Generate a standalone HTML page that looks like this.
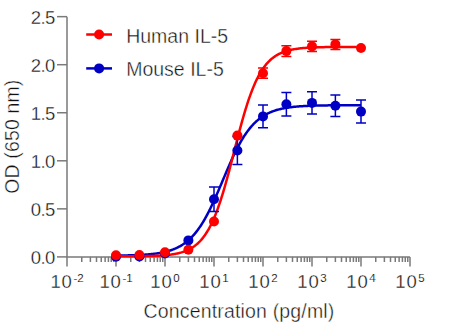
<!DOCTYPE html><html><head><meta charset="utf-8"><style>html,body{margin:0;padding:0;background:#fff;}svg{display:block;}text{font-family:"Liberation Sans",sans-serif;stroke:#fff;}</style></head><body>
<svg width="450" height="325" viewBox="0 0 450 325">
<rect width="450" height="325" fill="#fff"/>
<g stroke="#7a7a7a" stroke-width="1.5" fill="none">
<path d="M67.0,16.649999999999977 V256.9 H410"/>
<path d="M57,256.90 H67.0"/>
<path d="M57,208.85 H67.0"/>
<path d="M57,160.80 H67.0"/>
<path d="M57,112.75 H67.0"/>
<path d="M57,64.70 H67.0"/>
<path d="M57,16.65 H67.0"/>
<path d="M67.00,256.9 V266.5"/>
<path d="M81.75,256.9 V262"/>
<path d="M90.38,256.9 V262"/>
<path d="M96.50,256.9 V262"/>
<path d="M101.25,256.9 V262"/>
<path d="M105.13,256.9 V262"/>
<path d="M108.41,256.9 V262"/>
<path d="M111.25,256.9 V262"/>
<path d="M113.76,256.9 V262"/>
<path d="M116.00,256.9 V266.5"/>
<path d="M130.75,256.9 V262"/>
<path d="M139.38,256.9 V262"/>
<path d="M145.50,256.9 V262"/>
<path d="M150.25,256.9 V262"/>
<path d="M154.13,256.9 V262"/>
<path d="M157.41,256.9 V262"/>
<path d="M160.25,256.9 V262"/>
<path d="M162.76,256.9 V262"/>
<path d="M165.00,256.9 V266.5"/>
<path d="M179.75,256.9 V262"/>
<path d="M188.38,256.9 V262"/>
<path d="M194.50,256.9 V262"/>
<path d="M199.25,256.9 V262"/>
<path d="M203.13,256.9 V262"/>
<path d="M206.41,256.9 V262"/>
<path d="M209.25,256.9 V262"/>
<path d="M211.76,256.9 V262"/>
<path d="M214.00,256.9 V266.5"/>
<path d="M228.75,256.9 V262"/>
<path d="M237.38,256.9 V262"/>
<path d="M243.50,256.9 V262"/>
<path d="M248.25,256.9 V262"/>
<path d="M252.13,256.9 V262"/>
<path d="M255.41,256.9 V262"/>
<path d="M258.25,256.9 V262"/>
<path d="M260.76,256.9 V262"/>
<path d="M263.00,256.9 V266.5"/>
<path d="M277.75,256.9 V262"/>
<path d="M286.38,256.9 V262"/>
<path d="M292.50,256.9 V262"/>
<path d="M297.25,256.9 V262"/>
<path d="M301.13,256.9 V262"/>
<path d="M304.41,256.9 V262"/>
<path d="M307.25,256.9 V262"/>
<path d="M309.76,256.9 V262"/>
<path d="M312.00,256.9 V266.5"/>
<path d="M326.75,256.9 V262"/>
<path d="M335.38,256.9 V262"/>
<path d="M341.50,256.9 V262"/>
<path d="M346.25,256.9 V262"/>
<path d="M350.13,256.9 V262"/>
<path d="M353.41,256.9 V262"/>
<path d="M356.25,256.9 V262"/>
<path d="M358.76,256.9 V262"/>
<path d="M361.00,256.9 V266.5"/>
<path d="M375.75,256.9 V262"/>
<path d="M384.38,256.9 V262"/>
<path d="M390.50,256.9 V262"/>
<path d="M395.25,256.9 V262"/>
<path d="M399.13,256.9 V262"/>
<path d="M402.41,256.9 V262"/>
<path d="M405.25,256.9 V262"/>
<path d="M407.76,256.9 V262"/>
<path d="M410.00,256.9 V266.5"/>
</g>
<g fill="#111111" font-size="18.5" text-anchor="end" stroke-width="0.3">
<text x="54.9" y="264.00" letter-spacing="-0.5">0.0</text>
<text x="54.9" y="215.95" letter-spacing="-0.5">0.5</text>
<text x="54.9" y="167.90" letter-spacing="-0.5">1.0</text>
<text x="54.9" y="119.85" letter-spacing="-0.5">1.5</text>
<text x="54.9" y="71.80" letter-spacing="-0.5">2.0</text>
<text x="54.9" y="23.75" letter-spacing="-0.5">2.5</text>
</g>
<g fill="#111111" font-size="18.5" stroke-width="0.3">
<text x="67.00" y="288" text-anchor="middle"><tspan letter-spacing="0.8">10</tspan><tspan font-size="11.5" dy="-6.3" dx="0.8" stroke-width="0.1">-2</tspan></text>
<text x="116.00" y="288" text-anchor="middle"><tspan letter-spacing="0.8">10</tspan><tspan font-size="11.5" dy="-6.3" dx="0.8" stroke-width="0.1">-1</tspan></text>
<text x="165.00" y="288" text-anchor="middle"><tspan letter-spacing="0.8">10</tspan><tspan font-size="11.5" dy="-6.3" dx="0.8" stroke-width="0.1">0</tspan></text>
<text x="214.00" y="288" text-anchor="middle"><tspan letter-spacing="0.8">10</tspan><tspan font-size="11.5" dy="-6.3" dx="0.8" stroke-width="0.1">1</tspan></text>
<text x="263.00" y="288" text-anchor="middle"><tspan letter-spacing="0.8">10</tspan><tspan font-size="11.5" dy="-6.3" dx="0.8" stroke-width="0.1">2</tspan></text>
<text x="312.00" y="288" text-anchor="middle"><tspan letter-spacing="0.8">10</tspan><tspan font-size="11.5" dy="-6.3" dx="0.8" stroke-width="0.1">3</tspan></text>
<text x="361.00" y="288" text-anchor="middle"><tspan letter-spacing="0.8">10</tspan><tspan font-size="11.5" dy="-6.3" dx="0.8" stroke-width="0.1">4</tspan></text>
<text x="410.00" y="288" text-anchor="middle"><tspan letter-spacing="0.8">10</tspan><tspan font-size="11.5" dy="-6.3" dx="0.8" stroke-width="0.1">5</tspan></text>
</g>
<text x="239" y="318.3" fill="#111111" font-size="19.5" stroke-width="0.4" letter-spacing="0.17" text-anchor="middle">Concentration (pg/ml)</text>
<text transform="translate(19.0,136.7) rotate(-90)" fill="#111111" font-size="19.5" stroke-width="0.4" letter-spacing="0.15" text-anchor="middle">OD (650 nm)</text>
<path d="M116.00,255.57 L116.82,255.56 L117.64,255.55 L118.46,255.54 L119.28,255.53 L120.10,255.51 L120.92,255.50 L121.74,255.49 L122.56,255.48 L123.37,255.46 L124.19,255.45 L125.01,255.43 L125.83,255.41 L126.65,255.40 L127.47,255.38 L128.29,255.36 L129.11,255.34 L129.93,255.32 L130.75,255.29 L131.57,255.27 L132.39,255.24 L133.21,255.22 L134.03,255.19 L134.85,255.16 L135.67,255.13 L136.48,255.10 L137.30,255.06 L138.12,255.03 L138.94,254.99 L139.76,254.95 L140.58,254.91 L141.40,254.86 L142.22,254.81 L143.04,254.77 L143.86,254.71 L144.68,254.66 L145.50,254.60 L146.32,254.54 L147.14,254.48 L147.96,254.41 L148.78,254.34 L149.60,254.27 L150.41,254.19 L151.23,254.11 L152.05,254.02 L152.87,253.93 L153.69,253.84 L154.51,253.74 L155.33,253.63 L156.15,253.52 L156.97,253.41 L157.79,253.28 L158.61,253.16 L159.43,253.02 L160.25,252.88 L161.07,252.73 L161.89,252.57 L162.71,252.41 L163.53,252.24 L164.34,252.05 L165.16,251.86 L165.98,251.66 L166.80,251.45 L167.62,251.23 L168.44,251.00 L169.26,250.76 L170.08,250.50 L170.90,250.23 L171.72,249.95 L172.54,249.66 L173.36,249.35 L174.18,249.02 L175.00,248.69 L175.82,248.33 L176.64,247.96 L177.45,247.57 L178.27,247.16 L179.09,246.73 L179.91,246.28 L180.73,245.81 L181.55,245.32 L182.37,244.81 L183.19,244.27 L184.01,243.71 L184.83,243.13 L185.65,242.52 L186.47,241.88 L187.29,241.21 L188.11,240.52 L188.93,239.80 L189.75,239.05 L190.57,238.27 L191.38,237.45 L192.20,236.60 L193.02,235.72 L193.84,234.81 L194.66,233.86 L195.48,232.88 L196.30,231.86 L197.12,230.80 L197.94,229.70 L198.76,228.57 L199.58,227.40 L200.40,226.19 L201.22,224.95 L202.04,223.66 L202.86,222.34 L203.68,220.98 L204.49,219.57 L205.31,218.14 L206.13,216.66 L206.95,215.14 L207.77,213.59 L208.59,212.01 L209.41,210.39 L210.23,208.73 L211.05,207.05 L211.87,205.33 L212.69,203.58 L213.51,201.80 L214.33,200.00 L215.15,198.18 L215.97,196.33 L216.79,194.46 L217.61,192.57 L218.42,190.67 L219.24,188.76 L220.06,186.83 L220.88,184.89 L221.70,182.95 L222.52,181.01 L223.34,179.06 L224.16,177.12 L224.98,175.18 L225.80,173.25 L226.62,171.33 L227.44,169.42 L228.26,167.52 L229.08,165.64 L229.90,163.78 L230.72,161.94 L231.54,160.13 L232.35,158.34 L233.17,156.58 L233.99,154.84 L234.81,153.14 L235.63,151.46 L236.45,149.82 L237.27,148.22 L238.09,146.65 L238.91,145.11 L239.73,143.61 L240.55,142.15 L241.37,140.73 L242.19,139.35 L243.01,138.00 L243.83,136.69 L244.65,135.43 L245.46,134.20 L246.28,133.01 L247.10,131.85 L247.92,130.74 L248.74,129.66 L249.56,128.62 L250.38,127.61 L251.20,126.64 L252.02,125.71 L252.84,124.81 L253.66,123.95 L254.48,123.11 L255.30,122.31 L256.12,121.54 L256.94,120.81 L257.76,120.10 L258.58,119.42 L259.39,118.76 L260.21,118.14 L261.03,117.54 L261.85,116.97 L262.67,116.42 L263.49,115.89 L264.31,115.39 L265.13,114.91 L265.95,114.45 L266.77,114.01 L267.59,113.59 L268.41,113.19 L269.23,112.80 L270.05,112.44 L270.87,112.09 L271.69,111.76 L272.51,111.44 L273.32,111.14 L274.14,110.85 L274.96,110.57 L275.78,110.31 L276.60,110.06 L277.42,109.82 L278.24,109.59 L279.06,109.38 L279.88,109.17 L280.70,108.98 L281.52,108.79 L282.34,108.61 L283.16,108.44 L283.98,108.28 L284.80,108.13 L285.62,107.98 L286.43,107.84 L287.25,107.71 L288.07,107.59 L288.89,107.47 L289.71,107.35 L290.53,107.25 L291.35,107.14 L292.17,107.04 L292.99,106.95 L293.81,106.86 L294.63,106.78 L295.45,106.70 L296.27,106.62 L297.09,106.55 L297.91,106.48 L298.73,106.42 L299.55,106.36 L300.36,106.30 L301.18,106.24 L302.00,106.19 L302.82,106.14 L303.64,106.09 L304.46,106.04 L305.28,106.00 L306.10,105.96 L306.92,105.92 L307.74,105.88 L308.56,105.85 L309.38,105.81 L310.20,105.78 L311.02,105.75 L311.84,105.72 L312.66,105.70 L313.47,105.67 L314.29,105.65 L315.11,105.62 L315.93,105.60 L316.75,105.58 L317.57,105.56 L318.39,105.54 L319.21,105.52 L320.03,105.50 L320.85,105.49 L321.67,105.47 L322.49,105.46 L323.31,105.44 L324.13,105.43 L324.95,105.42 L325.77,105.41 L326.59,105.39 L327.40,105.38 L328.22,105.37 L329.04,105.36 L329.86,105.35 L330.68,105.34 L331.50,105.34 L332.32,105.33 L333.14,105.32 L333.96,105.31 L334.78,105.31 L335.60,105.30 L336.42,105.29 L337.24,105.29 L338.06,105.28 L338.88,105.28 L339.70,105.27 L340.52,105.27 L341.33,105.26 L342.15,105.26 L342.97,105.25 L343.79,105.25 L344.61,105.25 L345.43,105.24 L346.25,105.24 L347.07,105.24 L347.89,105.23 L348.71,105.23 L349.53,105.23 L350.35,105.23 L351.17,105.22 L351.99,105.22 L352.81,105.22 L353.63,105.22 L354.44,105.22 L355.26,105.21 L356.08,105.21 L356.90,105.21 L357.72,105.21 L358.54,105.21 L359.36,105.21 L360.18,105.20 L361.00,105.20" stroke="#0000c4" stroke-width="2.5" fill="none"/>
<path d="M116.00,256.39 L116.82,256.39 L117.64,256.38 L118.46,256.38 L119.28,256.38 L120.10,256.38 L120.92,256.37 L121.74,256.37 L122.56,256.37 L123.37,256.37 L124.19,256.36 L125.01,256.36 L125.83,256.35 L126.65,256.35 L127.47,256.35 L128.29,256.34 L129.11,256.34 L129.93,256.33 L130.75,256.33 L131.57,256.32 L132.39,256.31 L133.21,256.31 L134.03,256.30 L134.85,256.29 L135.67,256.28 L136.48,256.28 L137.30,256.27 L138.12,256.26 L138.94,256.25 L139.76,256.24 L140.58,256.23 L141.40,256.21 L142.22,256.20 L143.04,256.19 L143.86,256.17 L144.68,256.16 L145.50,256.14 L146.32,256.12 L147.14,256.10 L147.96,256.08 L148.78,256.06 L149.60,256.04 L150.41,256.01 L151.23,255.99 L152.05,255.96 L152.87,255.93 L153.69,255.90 L154.51,255.87 L155.33,255.84 L156.15,255.80 L156.97,255.76 L157.79,255.72 L158.61,255.67 L159.43,255.63 L160.25,255.58 L161.07,255.53 L161.89,255.47 L162.71,255.41 L163.53,255.35 L164.34,255.28 L165.16,255.21 L165.98,255.13 L166.80,255.05 L167.62,254.97 L168.44,254.87 L169.26,254.78 L170.08,254.67 L170.90,254.57 L171.72,254.45 L172.54,254.33 L173.36,254.20 L174.18,254.06 L175.00,253.91 L175.82,253.75 L176.64,253.59 L177.45,253.41 L178.27,253.22 L179.09,253.03 L179.91,252.82 L180.73,252.59 L181.55,252.36 L182.37,252.10 L183.19,251.84 L184.01,251.56 L184.83,251.26 L185.65,250.94 L186.47,250.60 L187.29,250.25 L188.11,249.87 L188.93,249.47 L189.75,249.05 L190.57,248.60 L191.38,248.13 L192.20,247.62 L193.02,247.09 L193.84,246.53 L194.66,245.94 L195.48,245.32 L196.30,244.65 L197.12,243.96 L197.94,243.22 L198.76,242.44 L199.58,241.62 L200.40,240.76 L201.22,239.85 L202.04,238.89 L202.86,237.88 L203.68,236.82 L204.49,235.71 L205.31,234.54 L206.13,233.31 L206.95,232.02 L207.77,230.67 L208.59,229.26 L209.41,227.78 L210.23,226.23 L211.05,224.62 L211.87,222.93 L212.69,221.17 L213.51,219.34 L214.33,217.44 L215.15,215.46 L215.97,213.41 L216.79,211.28 L217.61,209.07 L218.42,206.79 L219.24,204.44 L220.06,202.01 L220.88,199.51 L221.70,196.94 L222.52,194.30 L223.34,191.59 L224.16,188.82 L224.98,185.99 L225.80,183.10 L226.62,180.16 L227.44,177.17 L228.26,174.13 L229.08,171.06 L229.90,167.95 L230.72,164.80 L231.54,161.64 L232.35,158.45 L233.17,155.26 L233.99,152.05 L234.81,148.85 L235.63,145.65 L236.45,142.46 L237.27,139.29 L238.09,136.15 L238.91,133.03 L239.73,129.94 L240.55,126.89 L241.37,123.89 L242.19,120.93 L243.01,118.03 L243.83,115.19 L244.65,112.40 L245.46,109.68 L246.28,107.02 L247.10,104.43 L247.92,101.91 L248.74,99.47 L249.56,97.10 L250.38,94.80 L251.20,92.57 L252.02,90.43 L252.84,88.35 L253.66,86.36 L254.48,84.43 L255.30,82.58 L256.12,80.81 L256.94,79.11 L257.76,77.47 L258.58,75.91 L259.39,74.41 L260.21,72.98 L261.03,71.62 L261.85,70.31 L262.67,69.07 L263.49,67.89 L264.31,66.76 L265.13,65.68 L265.95,64.66 L266.77,63.69 L267.59,62.77 L268.41,61.90 L269.23,61.07 L270.05,60.28 L270.87,59.53 L271.69,58.82 L272.51,58.15 L273.32,57.52 L274.14,56.92 L274.96,56.35 L275.78,55.81 L276.60,55.30 L277.42,54.82 L278.24,54.37 L279.06,53.94 L279.88,53.53 L280.70,53.15 L281.52,52.79 L282.34,52.45 L283.16,52.13 L283.98,51.82 L284.80,51.54 L285.62,51.27 L286.43,51.01 L287.25,50.77 L288.07,50.55 L288.89,50.33 L289.71,50.13 L290.53,49.94 L291.35,49.76 L292.17,49.59 L292.99,49.43 L293.81,49.29 L294.63,49.14 L295.45,49.01 L296.27,48.89 L297.09,48.77 L297.91,48.66 L298.73,48.55 L299.55,48.46 L300.36,48.36 L301.18,48.28 L302.00,48.19 L302.82,48.12 L303.64,48.04 L304.46,47.98 L305.28,47.91 L306.10,47.85 L306.92,47.79 L307.74,47.74 L308.56,47.69 L309.38,47.64 L310.20,47.60 L311.02,47.56 L311.84,47.52 L312.66,47.48 L313.47,47.44 L314.29,47.41 L315.11,47.38 L315.93,47.35 L316.75,47.32 L317.57,47.30 L318.39,47.27 L319.21,47.25 L320.03,47.23 L320.85,47.21 L321.67,47.19 L322.49,47.17 L323.31,47.15 L324.13,47.14 L324.95,47.12 L325.77,47.11 L326.59,47.10 L327.40,47.08 L328.22,47.07 L329.04,47.06 L329.86,47.05 L330.68,47.04 L331.50,47.03 L332.32,47.02 L333.14,47.02 L333.96,47.01 L334.78,47.00 L335.60,46.99 L336.42,46.99 L337.24,46.98 L338.06,46.98 L338.88,46.97 L339.70,46.97 L340.52,46.96 L341.33,46.96 L342.15,46.95 L342.97,46.95 L343.79,46.94 L344.61,46.94 L345.43,46.94 L346.25,46.94 L347.07,46.93 L347.89,46.93 L348.71,46.93 L349.53,46.92 L350.35,46.92 L351.17,46.92 L351.99,46.92 L352.81,46.92 L353.63,46.91 L354.44,46.91 L355.26,46.91 L356.08,46.91 L356.90,46.91 L357.72,46.91 L358.54,46.91 L359.36,46.91 L360.18,46.90 L361.00,46.90" stroke="#ff0000" stroke-width="2.5" fill="none"/>
<g stroke="#0000c4" stroke-width="1.5" fill="none">
<path d="M214.00,186.90 V211.50 M209.00,186.90 H219.00 M209.00,211.50 H219.00"/>
<path d="M237.38,136.50 V164.50 M232.38,136.50 H242.38 M232.38,164.50 H242.38"/>
<path d="M263.00,105.10 V127.70 M258.00,105.10 H268.00 M258.00,127.70 H268.00"/>
<path d="M286.38,92.50 V115.90 M281.38,92.50 H291.38 M281.38,115.90 H291.38"/>
<path d="M312.00,91.70 V114.10 M307.00,91.70 H317.00 M307.00,114.10 H317.00"/>
<path d="M335.38,95.10 V116.50 M330.38,95.10 H340.38 M330.38,116.50 H340.38"/>
<path d="M361.00,100.10 V123.10 M356.00,100.10 H366.00 M356.00,123.10 H366.00"/>
</g>
<g fill="#0000c4">
<circle cx="116.00" cy="256.70" r="5"/>
<circle cx="139.38" cy="256.50" r="5"/>
<circle cx="165.00" cy="253.50" r="5"/>
<circle cx="188.38" cy="240.40" r="5"/>
<circle cx="214.00" cy="199.20" r="5"/>
<circle cx="237.38" cy="150.50" r="5"/>
<circle cx="263.00" cy="116.40" r="5"/>
<circle cx="286.38" cy="104.20" r="5"/>
<circle cx="312.00" cy="102.90" r="5"/>
<circle cx="335.38" cy="105.80" r="5"/>
<circle cx="361.00" cy="111.60" r="5"/>
</g>
<g stroke="#ff0000" stroke-width="1.5" fill="none">
<path d="M263.00,68.10 V78.30 M258.00,68.10 H268.00 M258.00,78.30 H268.00"/>
<path d="M286.38,45.70 V56.50 M281.38,45.70 H291.38 M281.38,56.50 H291.38"/>
<path d="M312.00,41.20 V51.60 M307.00,41.20 H317.00 M307.00,51.60 H317.00"/>
<path d="M335.38,39.40 V49.40 M330.38,39.40 H340.38 M330.38,49.40 H340.38"/>
</g>
<g fill="#ff0000">
<circle cx="116.00" cy="255.20" r="5"/>
<circle cx="139.38" cy="255.00" r="5"/>
<circle cx="165.00" cy="252.20" r="5"/>
<circle cx="188.38" cy="249.80" r="5"/>
<circle cx="214.00" cy="221.50" r="5"/>
<circle cx="237.38" cy="135.60" r="5"/>
<circle cx="263.00" cy="73.20" r="5"/>
<circle cx="286.38" cy="51.10" r="5"/>
<circle cx="312.00" cy="46.40" r="5"/>
<circle cx="335.38" cy="44.40" r="5"/>
<circle cx="361.00" cy="48.00" r="5"/>
</g>
<path d="M86.2,34.5 H112" stroke="#ff0000" stroke-width="2.5"/>
<circle cx="99.1" cy="34.5" r="5" fill="#ff0000"/>
<text x="126.2" y="43.0" fill="#111111" font-size="19.5" stroke-width="0.4" letter-spacing="0">Human IL-5</text>
<path d="M86.2,68.4 H112" stroke="#0000c4" stroke-width="2.5"/>
<circle cx="99.1" cy="68.4" r="5" fill="#0000c4"/>
<text x="126.2" y="76.0" fill="#111111" font-size="19.5" stroke-width="0.4" letter-spacing="0">Mouse IL-5</text>
</svg></body></html>
